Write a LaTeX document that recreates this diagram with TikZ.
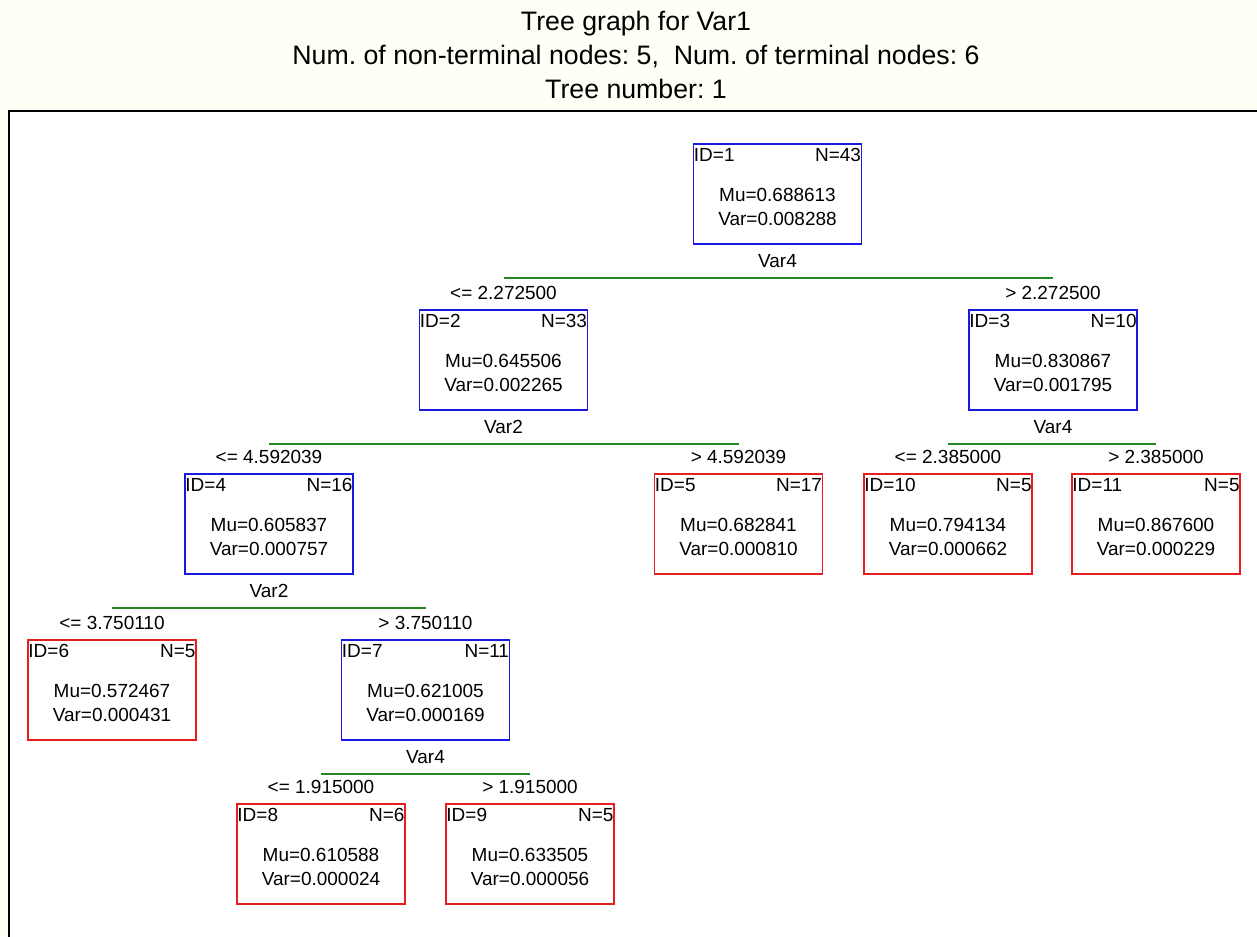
\documentclass[tikz,border=0pt]{standalone}
\usepackage{fontspec}
\setmainfont{Liberation Sans}
\usetikzlibrary{positioning}
\frenchspacing

\definecolor{splitblue}{RGB}{25,25,225}
\definecolor{leafred}{RGB}{230,30,30}
\definecolor{bargreen}{RGB}{35,135,35}
\definecolor{headcream}{RGB}{255,255,245}

% one tree box: name, style, centre, id, n, mu, var
\newcommand{\treebox}[7]{%
  \node[#2] (#1) at (#3) {};
  \node[hdr, anchor=north west] (#1id) at (#1.north west) {ID=#4};
  \node[hdr, anchor=north east] (#1n) at (#1.north east) {N=#5};
  \node[body] (#1body) at ([yshift=-7.4pt]#1.center) {Mu=#6\\Var=#7};
}

\begin{document}
\begin{tikzpicture}[
        x=0.02cm, y=-0.02cm,
        txt/.style = {font=\fontsize{10.8}{13.6}\selectfont},
        box/.style = {draw, line width=1.1pt, minimum width=3.36cm, minimum height=2cm, inner sep=0pt},
        split/.style = {box, draw=splitblue},
        leaf/.style = {box, draw=leafred},
        hdr/.style = {txt, inner xsep=0.6pt, inner ysep=3pt},
        body/.style = {txt, align=center},
        vlab/.style = {txt, inner sep=0pt},
        thr/.style = {txt, inner sep=0pt, text depth=0pt},
        bar/.style = {draw=bargreen, line width=1.1pt}
        ]
        \useasboundingbox (0,0) rectangle (1257,936);
        \fill[headcream] (0,0) rectangle (1257,936);
        \draw[line width=1.4pt, fill=white] (9,111) rectangle (1266,946);

        \node[align=center, font=\fontsize{15.2}{19.6}\selectfont] (title) at (636,55)
            {Tree graph for Var1\\Num. of non-terminal nodes: 5,\ \ Num. of terminal nodes: 6\\Tree number: 1};

        % boxes
        \treebox{n1}{split}{777.5,194}{1}{43}{0.688613}{0.008288}
        \treebox{n2}{split}{503.5,360}{2}{33}{0.645506}{0.002265}
        \treebox{n3}{split}{1053,360}{3}{10}{0.830867}{0.001795}
        \treebox{n4}{split}{269,524}{4}{16}{0.605837}{0.000757}
        \treebox{n5}{leaf}{738.5,524}{5}{17}{0.682841}{0.000810}
        \treebox{n10}{leaf}{948,524}{10}{5}{0.794134}{0.000662}
        \treebox{n11}{leaf}{1156,524}{11}{5}{0.867600}{0.000229}
        \treebox{n6}{leaf}{112,690}{6}{5}{0.572467}{0.000431}
        \treebox{n7}{split}{425.5,690}{7}{11}{0.621005}{0.000169}
        \treebox{n8}{leaf}{321,854}{8}{6}{0.610588}{0.000024}
        \treebox{n9}{leaf}{530,854}{9}{5}{0.633505}{0.000056}

        % split variables
        \node[vlab, below=5.3pt of n1] (v1) {Var4};
        \node[vlab, below=5.3pt of n2] (v2) {Var2};
        \node[vlab, below=5.3pt of n3] (v3) {Var4};
        \node[vlab, below=5.3pt of n4] (v4) {Var2};
        \node[vlab, below=5.3pt of n7] (v7) {Var4};

        \coordinate[below=18.7pt of n1] (s1);
        \coordinate[below=18.7pt of n2] (s2);
        \coordinate[below=18.7pt of n3] (s3);
        \coordinate[below=18.7pt of n4] (s4);
        \coordinate[below=18.7pt of n7] (s7);

        \draw[bar] (n2 |- s1) -- (n3 |- s1);
        \draw[bar] (n4 |- s2) -- (n5 |- s2);
        \draw[bar] (n10 |- s3) -- (n11 |- s3);
        \draw[bar] (n6 |- s4) -- (n7 |- s4);
        \draw[bar] (n8 |- s7) -- (n9 |- s7);

        % split thresholds
        \node[thr, above=5.1pt of n2] (t2) {<= 2.272500};
        \node[thr, above=5.1pt of n3] (t3) {> 2.272500};
        \node[thr, above=5.1pt of n4] (t4) {<= 4.592039};
        \node[thr, above=5.1pt of n5] (t5) {> 4.592039};
        \node[thr, above=5.1pt of n10] (t10) {<= 2.385000};
        \node[thr, above=5.1pt of n11] (t11) {> 2.385000};
        \node[thr, above=5.1pt of n6] (t6) {<= 3.750110};
        \node[thr, above=5.1pt of n7] (t7) {> 3.750110};
        \node[thr, above=5.1pt of n8] (t8) {<= 1.915000};
        \node[thr, above=5.1pt of n9] (t9) {> 1.915000};

    \end{tikzpicture}
\end{document}
